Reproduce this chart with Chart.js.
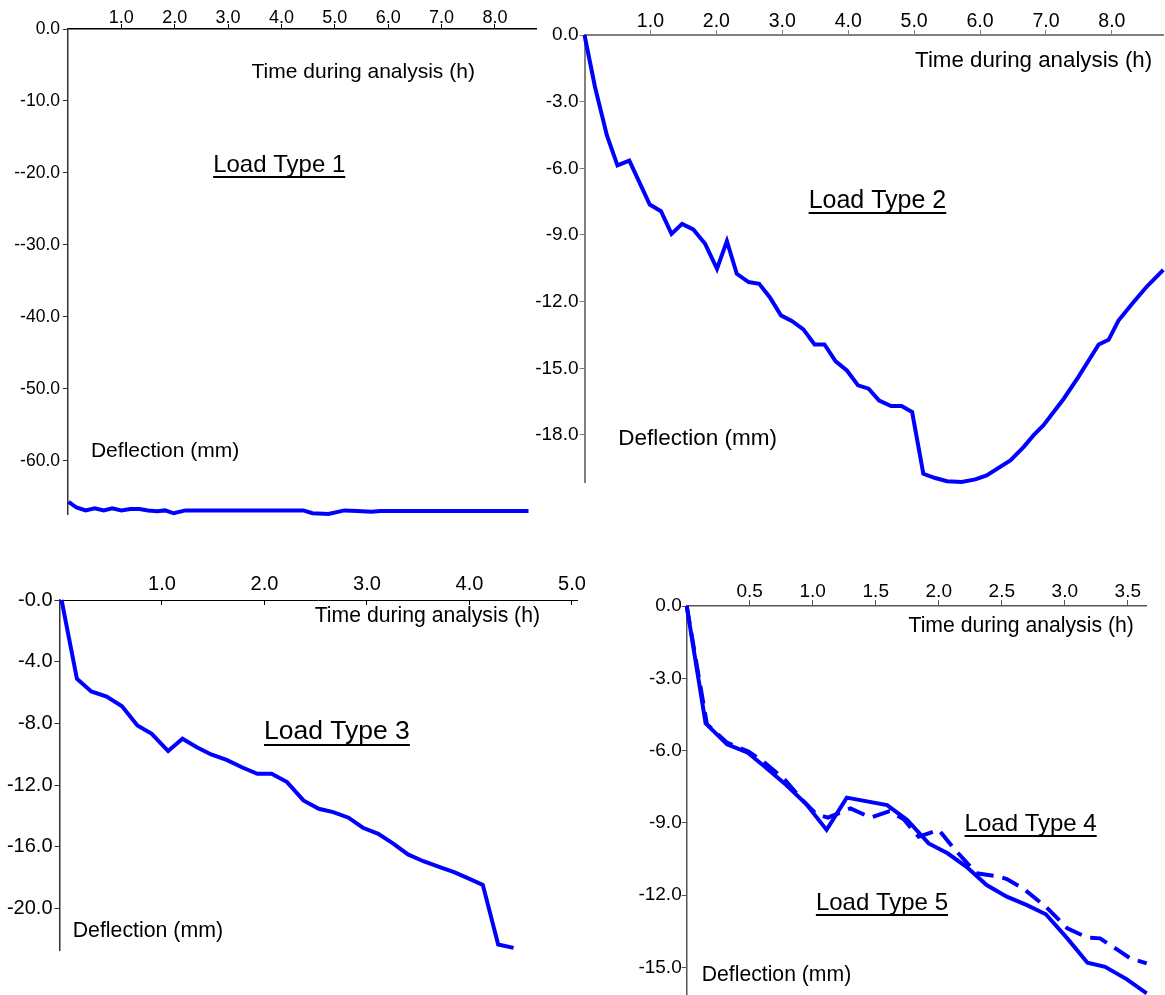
<!DOCTYPE html>
<html>
<head>
<meta charset="utf-8">
<script src="https://cdn.jsdelivr.net/npm/chart.js@4.4.1/dist/chart.umd.min.js"></script>
<style>
  html, body { margin: 0; padding: 0; background: #ffffff; }
  body { width: 1165px; height: 995px; position: relative; overflow: hidden; }
  canvas { position: absolute; }
</style>
</head>
<body>
<canvas id="panel1"></canvas>
<canvas id="panel2"></canvas>
<canvas id="panel3"></canvas>
<canvas id="panel4"></canvas>
<script>
// ---- Deflection histories (time in hours, deflection in mm) ----
const loadType1Time = [0.01, 0.16, 0.33, 0.50, 0.67, 0.83, 1.00, 1.17, 1.34, 1.50, 1.67, 1.82, 1.98, 2.20, 2.60, 3.00, 3.40, 3.80, 4.20, 4.41, 4.58, 4.88, 5.18, 5.42, 5.69, 5.85, 6.50, 7.20, 8.00, 8.63];
const loadType1Defl = [-65.7, -66.5, -66.9, -66.6, -66.9, -66.6, -66.9, -66.7, -66.7, -66.9, -67.0, -66.9, -67.3, -66.9, -66.9, -66.9, -66.9, -66.9, -66.9, -66.9, -67.3, -67.4, -66.9, -67.0, -67.1, -67.0, -67.0, -67.0, -67.0, -67.0];

const loadType2Time = [0.00, 0.16, 0.34, 0.50, 0.68, 0.99, 1.16, 1.32, 1.48, 1.65, 1.83, 2.01, 2.16, 2.31, 2.49, 2.65, 2.81, 2.98, 3.15, 3.32, 3.49, 3.64, 3.81, 3.98, 4.15, 4.31, 4.47, 4.65, 4.81, 4.97, 5.14, 5.32, 5.50, 5.72, 5.93, 6.10, 6.46, 6.66, 6.81, 6.96, 7.27, 7.49, 7.80, 7.95, 8.10, 8.33, 8.53, 8.78];
const loadType2Defl = [0.00, -2.35, -4.52, -5.87, -5.65, -7.63, -7.93, -8.95, -8.50, -8.75, -9.40, -10.52, -9.28, -10.75, -11.12, -11.20, -11.80, -12.62, -12.88, -13.25, -13.93, -13.93, -14.69, -15.10, -15.77, -15.92, -16.45, -16.70, -16.70, -16.97, -19.75, -19.94, -20.08, -20.12, -20.00, -19.82, -19.15, -18.55, -18.02, -17.57, -16.37, -15.40, -13.93, -13.72, -12.85, -12.02, -11.32, -10.57];

const loadType3Time = [0.02, 0.17, 0.31, 0.46, 0.61, 0.76, 0.90, 1.06, 1.20, 1.34, 1.48, 1.63, 1.79, 1.93, 2.07, 2.22, 2.38, 2.53, 2.67, 2.82, 2.96, 3.11, 3.26, 3.40, 3.55, 3.71, 3.85, 4.00, 4.13, 4.28, 4.43];
const loadType3Defl = [0.00, -5.11, -5.93, -6.26, -6.89, -8.14, -8.68, -9.80, -9.00, -9.55, -10.02, -10.37, -10.88, -11.27, -11.27, -11.81, -13.00, -13.54, -13.76, -14.12, -14.77, -15.16, -15.81, -16.50, -16.94, -17.33, -17.65, -18.08, -18.47, -22.34, -22.56];

const loadType4Time = [0.00, 0.16, 0.32, 0.49, 0.61, 0.78, 0.93, 1.03, 1.12, 1.30, 1.46, 1.61, 1.72, 1.84, 1.92, 2.00, 2.12, 2.30, 2.48, 2.54, 2.67, 2.85, 3.02, 3.18, 3.28, 3.42, 3.52, 3.65];
const loadType4Defl = [0.00, -4.90, -5.67, -6.04, -6.46, -7.22, -8.12, -8.64, -8.78, -8.40, -8.78, -8.51, -8.84, -9.57, -9.43, -9.29, -10.06, -11.09, -11.23, -11.33, -11.72, -12.48, -13.37, -13.76, -13.79, -14.27, -14.62, -14.83];

const loadType5Time = [0.00, 0.15, 0.32, 0.48, 0.62, 0.79, 0.95, 1.11, 1.27, 1.59, 1.75, 1.92, 2.07, 2.22, 2.38, 2.54, 2.70, 2.85, 3.02, 3.18, 3.32, 3.49, 3.65];
const loadType5Defl = [0.00, -4.87, -5.74, -6.07, -6.67, -7.43, -8.23, -9.29, -7.95, -8.26, -8.88, -9.85, -10.26, -10.82, -11.58, -12.06, -12.41, -12.79, -13.79, -14.80, -14.97, -15.48, -16.07];

// ---- Axis ticks and their printed labels ----
const panel1TimeTicks = [1, 2, 3, 4, 5, 6, 7, 8];
const panel1TimeLabels = ['1.0', '2.0', '3.0', '4.0', '5.0', '6.0', '7.0', '8.0'];
const panel1DeflTicks = [0, -10, -20, -30, -40, -50, -60];
const panel1DeflLabels = ['0.0', '-10.0', '--20.0', '--30.0', '-40.0', '-50.0', '-60.0'];

const panel2TimeTicks = [1, 2, 3, 4, 5, 6, 7, 8];
const panel2TimeLabels = ['1.0', '2.0', '3.0', '4.0', '5.0', '6.0', '7.0', '8.0'];
const panel2DeflTicks = [0, -3, -6, -9, -12, -15, -18];
const panel2DeflLabels = ['0.0', '-3.0', '-6.0', '-9.0', '-12.0', '-15.0', '-18.0'];

const panel3TimeTicks = [1, 2, 3, 4, 5];
const panel3TimeLabels = ['1.0', '2.0', '3.0', '4.0', '5.0'];
const panel3DeflTicks = [0, -4, -8, -12, -16, -20];
const panel3DeflLabels = ['-0.0', '-4.0', '-8.0', '-12.0', '-16.0', '-20.0'];

const panel4TimeTicks = [0.5, 1, 1.5, 2, 2.5, 3, 3.5];
const panel4TimeLabels = ['0.5', '1.0', '1.5', '2.0', '2.5', '3.0', '3.5'];
const panel4DeflTicks = [0, -3, -6, -9, -12, -15];
const panel4DeflLabels = ['0.0', '-3.0', '-6.0', '-9.0', '-12.0', '-15.0'];

const FONT = "'Liberation Sans', Arial, Helvetica, sans-serif";
const LINE_BLUE = '#0000ff';

// Text written inside each plot (anchored in data units: left edge, vertical middle)
const panelText = {
  id: 'panelText',
  afterDatasetsDraw(chart, args, opts) {
    const ctx = chart.ctx;
    const xs = chart.scales.x, ys = chart.scales.y;
    ctx.save();
    ctx.fillStyle = '#000000';
    ctx.textAlign = 'left';
    ctx.textBaseline = 'middle';
    for (const note of opts.items || []) {
      ctx.font = note.size + 'px ' + FONT;
      const px = xs.getPixelForValue(note.x);
      const py = ys.getPixelForValue(note.y);
      ctx.fillText(note.text, px, py);
      if (note.underline) {
        const w = ctx.measureText(note.text).width;
        ctx.fillRect(px, Math.round(py + note.size * 0.45), w, 2);
      }
    }
    ctx.restore();
  }
};

function buildPanel(id, spec) {
  const canvas = document.getElementById(id);
  canvas.width = spec.box.w;
  canvas.height = spec.box.h;
  canvas.style.left = spec.box.left + 'px';
  canvas.style.top = spec.box.top + 'px';

  const areaLeft = spec.area.left - spec.box.left;
  const areaTop = spec.area.top - spec.box.top;
  const areaRight = spec.area.right - spec.box.left;
  const areaBottom = spec.area.bottom - spec.box.top;

  const datasets = spec.series.map(s => ({
    data: s.time.map((t, i) => ({ x: t, y: s.defl[i] })),
    borderColor: LINE_BLUE,
    borderWidth: 4,
    borderDash: s.dash || [],
    pointRadius: 0,
    tension: 0,
    fill: false,
    clip: false
  }));

  return new Chart(canvas, {
    type: 'line',
    data: { datasets },
    options: {
      responsive: false,
      animation: false,
      events: [],
      layout: { padding: { left: 0, top: 0, right: spec.box.w - areaRight, bottom: spec.box.h - areaBottom } },
      plugins: {
        legend: { display: false },
        tooltip: { enabled: false },
        panelText: { items: spec.notes }
      },
      scales: {
        x: {
          type: 'linear',
          position: 'top',
          min: 0,
          max: spec.xMax,
          afterFit: s => { s.height = areaTop; },
          afterBuildTicks: s => { s.ticks = spec.xTicks.map(v => ({ value: v })); },
          ticks: {
            autoSkip: false,
            maxRotation: 0,
            color: '#000000',
            padding: spec.xStyle.labelPad,
            font: { family: FONT, size: spec.xStyle.fontSize },
            callback: (v, i) => spec.xLabels[i]
          },
          grid: {
            display: true,
            drawOnChartArea: false,
            drawTicks: true,
            tickLength: spec.xStyle.tickLength,
            tickWidth: 1,
            tickColor: spec.xStyle.color
          },
          border: { display: true, color: spec.xStyle.color, width: spec.xStyle.width }
        },
        y: {
          type: 'linear',
          position: 'left',
          min: spec.yMin,
          max: 0,
          afterFit: s => { s.width = areaLeft; },
          afterBuildTicks: s => { s.ticks = spec.yTicks.map(v => ({ value: v })); },
          ticks: {
            autoSkip: false,
            color: '#000000',
            padding: spec.yStyle.labelPad,
            font: { family: FONT, size: spec.yStyle.fontSize },
            callback: (v, i) => spec.yLabels[i]
          },
          grid: {
            display: true,
            drawOnChartArea: false,
            drawTicks: true,
            tickLength: 5,
            tickWidth: 1,
            tickColor: spec.yStyle.color
          },
          border: { display: true, color: spec.yStyle.color, width: spec.yStyle.width }
        }
      }
    },
    plugins: [panelText]
  });
}

buildPanel('panel1', {
  box: { left: 0, top: 0, w: 545, h: 535 },
  area: { left: 68, top: 29, right: 536, bottom: 514 },
  xMax: 8.77, yMin: -67.4,
  xTicks: panel1TimeTicks, xLabels: panel1TimeLabels,
  yTicks: panel1DeflTicks, yLabels: panel1DeflLabels,
  xStyle: { fontSize: 18, labelPad: -5, tickLength: 5, color: '#000000', width: 1.5 },
  yStyle: { fontSize: 17.5, labelPad: 3, color: '#333333', width: 1.5 },
  series: [{ time: loadType1Time, defl: loadType1Defl }],
  notes: [
    { text: 'Time during analysis (h)', x: 3.44, y: -6.0, size: 21 },
    { text: 'Deflection (mm)', x: 0.43, y: -58.7, size: 21 },
    { text: 'Load Type 1', x: 2.72, y: -18.96, size: 24, underline: true }
  ]
});

buildPanel('panel2', {
  box: { left: 520, top: 0, w: 645, h: 505 },
  area: { left: 584.5, top: 35, right: 1163.3, bottom: 482.7 },
  xMax: 8.78, yMin: -20.15,
  xTicks: panel2TimeTicks, xLabels: panel2TimeLabels,
  yTicks: panel2DeflTicks, yLabels: panel2DeflLabels,
  xStyle: { fontSize: 19.5, labelPad: -3, tickLength: 5, color: '#808080', width: 2 },
  yStyle: { fontSize: 19, labelPad: 1, color: '#808080', width: 2 },
  series: [{ time: loadType2Time, defl: loadType2Defl }],
  notes: [
    { text: 'Time during analysis (h)', x: 5.015, y: -1.15, size: 22.3 },
    { text: 'Deflection (mm)', x: 0.513, y: -18.17, size: 22.5 },
    { text: 'Load Type 2', x: 3.40, y: -7.48, size: 25, underline: true }
  ]
});

buildPanel('panel3', {
  box: { left: 0, top: 555, w: 600, h: 425 },
  area: { left: 59.5, top: 600, right: 577.1, bottom: 950.8 },
  xMax: 5.05, yMin: -22.75,
  xTicks: panel3TimeTicks, xLabels: panel3TimeLabels,
  yTicks: panel3DeflTicks, yLabels: panel3DeflLabels,
  xStyle: { fontSize: 20, labelPad: 9, tickLength: -5, color: '#000000', width: 1 },
  yStyle: { fontSize: 20, labelPad: 2, color: '#333333', width: 1.5 },
  series: [{ time: loadType3Time, defl: loadType3Defl }],
  notes: [
    { text: 'Time during analysis (h)', x: 2.49, y: -1.07, size: 21.2 },
    { text: 'Deflection (mm)', x: 0.129, y: -21.48, size: 21.3 },
    { text: 'Load Type 3', x: 1.995, y: -8.57, size: 26.5, underline: true }
  ]
});

buildPanel('panel4', {
  box: { left: 620, top: 555, w: 545, h: 470 },
  area: { left: 686.7, top: 606, right: 1146.7, bottom: 995 },
  xMax: 3.65, yMin: -16.14,
  xTicks: panel4TimeTicks, xLabels: panel4TimeLabels,
  yTicks: panel4DeflTicks, yLabels: panel4DeflLabels,
  xStyle: { fontSize: 19, labelPad: -3, tickLength: 6, color: '#555555', width: 1.5 },
  yStyle: { fontSize: 19, labelPad: 0, color: '#555555', width: 1.5 },
  series: [
    { time: loadType4Time, defl: loadType4Defl, dash: [18, 9] },
    { time: loadType5Time, defl: loadType5Defl }
  ],
  notes: [
    { text: 'Time during analysis (h)', x: 1.76, y: -0.82, size: 21.2 },
    { text: 'Deflection (mm)', x: 0.119, y: -15.31, size: 21.2 },
    { text: 'Load Type 4', x: 2.205, y: -9.06, size: 24, underline: true },
    { text: 'Load Type 5', x: 1.025, y: -12.34, size: 24, underline: true }
  ]
});
</script>
</body>
</html>
